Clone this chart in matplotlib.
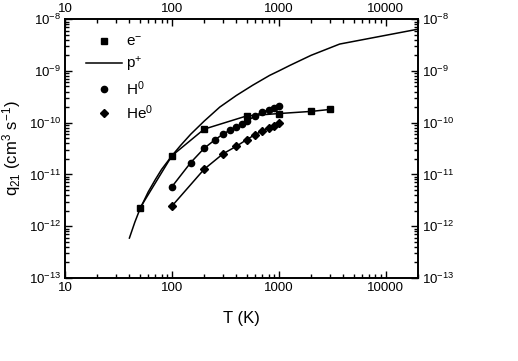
import matplotlib
matplotlib.use("Agg")
import matplotlib.pyplot as plt
from matplotlib.ticker import LogLocator, LogFormatterSciNotation, NullFormatter

plt.rcParams["font.family"] = ["Liberation Sans", "DejaVu Sans"]
plt.rcParams["mathtext.default"] = "regular"
plt.rcParams["axes.unicode_minus"] = False

# e- : squares with connecting line
T_e = [50, 100, 200, 500, 1000, 2000, 3000]
q_e = [2.2e-12, 2.3e-11, 7.5e-11, 1.35e-10, 1.5e-10, 1.65e-10, 1.8e-10]

# p+ : solid line only
T_p = [40, 45, 50, 60, 70, 80, 100, 120, 150, 200, 280, 400, 570, 820, 1000, 1270, 2000, 3700, 20000]
q_p = [5.9e-13, 1.2e-12, 2.1e-12, 4.6e-12, 8.0e-12, 1.25e-11, 2.3e-11, 3.6e-11, 6.0e-11, 1.07e-10,
       2.0e-10, 3.35e-10, 5.3e-10, 8.2e-10, 1.0e-9, 1.28e-9, 2.0e-9, 3.3e-9, 6.4e-9]

# H0 : circles
T_h = [100, 150, 200, 250, 300, 350, 400, 450, 500, 600, 700, 800, 900, 1000]
q_h = [5.8e-12, 1.7e-11, 3.2e-11, 4.6e-11, 6.0e-11, 7.2e-11, 8.3e-11, 9.3e-11, 1.07e-10,
       1.35e-10, 1.62e-10, 1.74e-10, 1.94e-10, 2.1e-10]

# He0 : diamonds
T_he = [100, 200, 300, 400, 500, 600, 700, 800, 900, 1000]
q_he = [2.45e-12, 1.26e-11, 2.5e-11, 3.5e-11, 4.7e-11, 5.9e-11, 6.9e-11, 7.9e-11, 8.8e-11, 9.8e-11]

fig = plt.figure(figsize=(5.18, 3.61), dpi=100)
ax = fig.add_axes([0.1255, 0.230, 0.6815, 0.717])

ax.plot(T_p, q_p, "-", color="black", lw=1.1, label="p$^{+}$")
ax.plot(T_e, q_e, "-", color="black", lw=1.1)
ax.plot(T_h, q_h, "-", color="black", lw=1.1)
ax.plot(T_he, q_he, "-", color="black", lw=1.1)
ax.plot(T_e, q_e, "s", color="black", ms=4.5, ls="none", label="e$^{-}$")
ax.plot(T_h, q_h, "o", color="black", ms=4.5, ls="none", label="H$^{0}$")
ax.plot(T_he, q_he, "D", color="black", ms=3.8, ls="none", label="He$^{0}$")

ax.set_xscale("log")
ax.set_yscale("log")
ax.set_xlim(10, 20000)
ax.set_ylim(1e-13, 1e-8)

ax.xaxis.set_major_locator(LogLocator(base=10, numticks=10))
ax.xaxis.set_minor_locator(LogLocator(base=10, subs=range(2, 10), numticks=20))
ax.xaxis.set_minor_formatter(NullFormatter())
ax.xaxis.set_major_formatter(plt.FuncFormatter(lambda v, p: f"{int(round(v))}"))
ax.yaxis.set_major_locator(LogLocator(base=10, numticks=10))
ax.yaxis.set_minor_locator(LogLocator(base=10, subs=range(2, 10), numticks=20))
ax.yaxis.set_minor_formatter(NullFormatter())
ax.yaxis.set_major_formatter(LogFormatterSciNotation())

ax.tick_params(which="both", direction="in", top=True, right=True,
               labeltop=True, labelright=True, labelsize=9.5, width=1.0, pad=3)
ax.tick_params(which="major", length=5)
ax.tick_params(which="minor", length=3)
for s in ax.spines.values():
    s.set_linewidth(1.4)

ax.set_xlabel("T (K)", fontsize=12, labelpad=12)
ax.set_ylabel("q$_{21}$ (cm$^{3}$ s$^{-1}$)", fontsize=12, labelpad=4)

handles, labels = ax.get_legend_handles_labels()
order = [1, 0, 2, 3]
ax.legend([handles[i] for i in order], [labels[i] for i in order],
          loc="upper left", bbox_to_anchor=(0.02, 0.99), frameon=False,
          fontsize=11, handlelength=2.4, labelspacing=0.35, handletextpad=0.2)

fig.savefig("out.png", dpi=100)
